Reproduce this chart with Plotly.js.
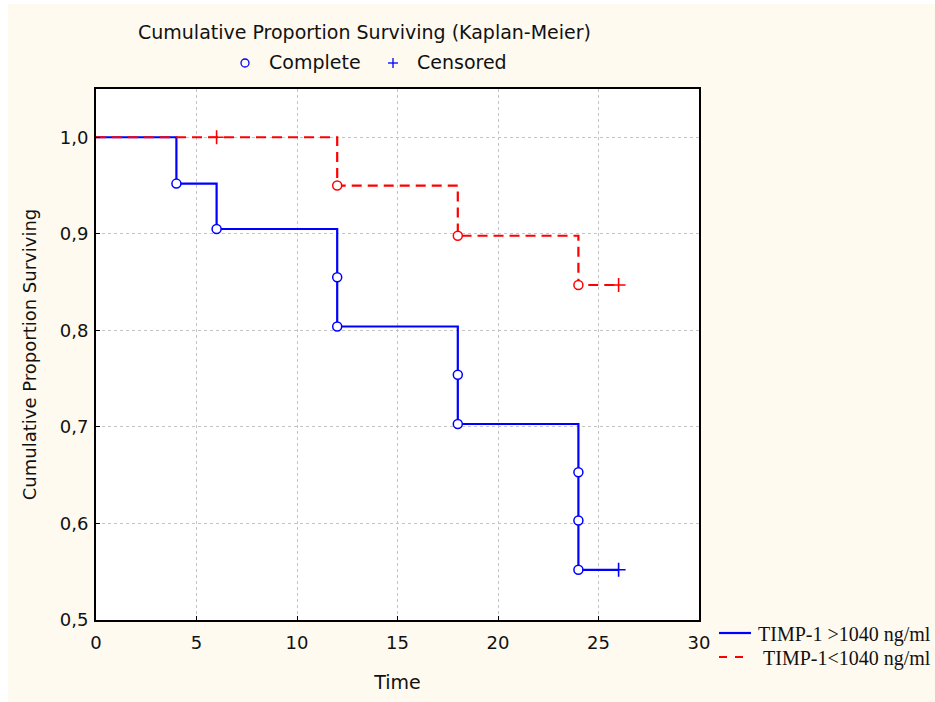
<!DOCTYPE html>
<html>
<head>
<meta charset="utf-8">
<script src="https://cdn.plot.ly/plotly-3.0.1.min.js"></script>
<style>html,body{margin:0;padding:0;background:#fffaf0;}</style>
</head>
<body>
<div id="chart" style="width:935px;height:702px;"></div>
<script>
// Group 1: TIMP-1 > 1040 ng/ml
var highEventTimes = [4, 6, 12, 12, 18, 18, 24, 24, 24];
var highEventSurv  = [0.952, 0.905, 0.855, 0.804, 0.754, 0.703, 0.653, 0.603, 0.552];
var highCensTimes  = [26];
var highCensSurv   = [0.552];

// Group 2: TIMP-1 < 1040 ng/ml
var lowEventTimes = [12, 18, 24];
var lowEventSurv  = [0.950, 0.898, 0.847];
var lowCensTimes  = [6, 26];
var lowCensSurv   = [1.0, 0.847];

var seriesNames = ['TIMP-1 &gt;1040 ng/ml', 'TIMP-1&lt;1040 ng/ml'];
var xTicks = [0, 5, 10, 15, 20, 25, 30];
var yTicks = [0.5, 0.6, 0.7, 0.8, 0.9, 1.0];

var BLUE = '#0000ff', RED = '#ff0000';

function stepLine(evT, evS, cT, cS) {
  var lastT = cT[cT.length - 1], lastS = cS[cS.length - 1];
  return { x: [0].concat(evT, [lastT]), y: [1].concat(evS, [lastS]) };
}
var hl = stepLine(highEventTimes, highEventSurv, highCensTimes, highCensSurv);
var ll = stepLine(lowEventTimes, lowEventSurv, lowCensTimes, lowCensSurv);

var traces = [
  { x: hl.x, y: hl.y, mode: 'lines', line: { shape: 'hv', color: BLUE, width: 2.2 }, name: seriesNames[0], showlegend: false },
  { x: ll.x, y: ll.y, mode: 'lines', line: { shape: 'hv', color: RED, width: 2.2, dash: '10px,6px' }, name: seriesNames[1], showlegend: false },
  { x: highEventTimes, y: highEventSurv, mode: 'markers', showlegend: false,
    marker: { symbol: 'circle', size: 9, color: '#ffffff', line: { color: BLUE, width: 1.5 } } },
  { x: lowEventTimes, y: lowEventSurv, mode: 'markers', showlegend: false,
    marker: { symbol: 'circle', size: 9, color: '#ffffff', line: { color: RED, width: 1.5 } } },
  { x: highCensTimes, y: highCensSurv, mode: 'markers', showlegend: false,
    marker: { symbol: 'cross-thin-open', size: 10, color: BLUE, line: { color: BLUE, width: 1.6 } } },
  { x: lowCensTimes, y: lowCensSurv, mode: 'markers', showlegend: false,
    marker: { symbol: 'cross-thin-open', size: 10, color: RED, line: { color: RED, width: 1.6 } } }
];

// pixel helpers for decoration placement (plot area 96..699 x 89..620)
var L = 96, R = 236, T = 89, B = 82, W = 935 - L - R, H = 702 - T - B;
function px(x) { return (x - L) / W; }
function py(y) { return (702 - B - y) / H; }

var FONT = 'DejaVu Sans, sans-serif';
var SERIF = 'Liberation Serif, Times New Roman, serif';

function note(text, x, y, anchor, font) {
  return { text: text, xref: 'paper', yref: 'paper', x: px(x), y: py(y), xanchor: anchor, yanchor: 'middle',
           showarrow: false, font: font };
}

var layout = {
  width: 935, height: 702,
  margin: { l: L, r: R, t: T, b: B, autoexpand: false },
  paper_bgcolor: '#fffaf0',
  plot_bgcolor: '#ffffff',
  separators: ', ',
  font: { family: FONT, size: 18, color: '#111111' },
  showlegend: false,
  xaxis: {
    range: [0, 30], tickvals: xTicks, ticks: 'inside', ticklen: 4, tickcolor: '#000',
    showline: true, linecolor: '#000', linewidth: 2, mirror: true,
    showgrid: true, gridcolor: '#c4c4c4', griddash: 'dot', gridwidth: 1,
    zeroline: false, tickfont: { family: FONT, size: 18 }, ticklabelstandoff: 5,
    title: { text: 'Time', font: { family: FONT, size: 19 }, standoff: 24 }
  },
  yaxis: {
    range: [0.5, 1.05], tickvals: yTicks, tickformat: '.1f', ticks: 'inside', ticklen: 4, tickcolor: '#000',
    showline: true, linecolor: '#000', linewidth: 2, mirror: true,
    showgrid: true, gridcolor: '#c4c4c4', griddash: 'dot', gridwidth: 1,
    zeroline: false, tickfont: { family: FONT, size: 18 }, ticklabelstandoff: 2,
    title: { text: 'Cumulative Proportion Surviving', font: { family: FONT, size: 18 }, standoff: 18 }
  },
  annotations: [
    note('Cumulative Proportion Surviving (Kaplan-Meier)', 364, 32, 'center', { family: FONT, size: 19, color: '#111' }),
    note('Complete', 267, 62, 'left', { family: FONT, size: 19, color: '#111' }),
    note('Censored', 415, 62, 'left', { family: FONT, size: 19, color: '#111' }),
    note(seriesNames[0], 756, 634, 'left', { family: SERIF, size: 20, color: '#111' }),
    note(seriesNames[1], 761, 658, 'left', { family: SERIF, size: 20, color: '#111' })
  ],
  shapes: [
    // header marker key
    { type: 'circle', xref: 'paper', yref: 'paper', xsizemode: 'pixel', ysizemode: 'pixel',
      xanchor: px(245), yanchor: py(63), x0: -4, x1: 4, y0: -4, y1: 4,
      line: { color: BLUE, width: 1.3 }, fillcolor: 'rgba(0,0,0,0)' },
    { type: 'line', xref: 'paper', yref: 'paper', xsizemode: 'pixel', ysizemode: 'pixel',
      xanchor: px(393), yanchor: py(63), x0: -5, x1: 5, y0: 0, y1: 0, line: { color: BLUE, width: 1.3 } },
    { type: 'line', xref: 'paper', yref: 'paper', xsizemode: 'pixel', ysizemode: 'pixel',
      xanchor: px(393), yanchor: py(63), x0: 0, x1: 0, y0: -5, y1: 5, line: { color: BLUE, width: 1.3 } },
    // series legend keys
    { type: 'line', xref: 'paper', yref: 'paper', x0: px(719), x1: px(751), y0: py(633), y1: py(633),
      line: { color: BLUE, width: 2.2 } },
    { type: 'line', xref: 'paper', yref: 'paper', x0: px(719), x1: px(743), y0: py(657), y1: py(657),
      line: { color: RED, width: 2.2, dash: '8px,8px' } },
    // thin white page border
    { type: 'rect', xref: 'paper', yref: 'paper', x0: px(0), x1: px(8), y0: py(702), y1: py(0),
      line: { width: 0 }, fillcolor: '#ffffff', layer: 'below' },
    { type: 'rect', xref: 'paper', yref: 'paper', x0: px(0), x1: px(935), y0: py(4), y1: py(0),
      line: { width: 0 }, fillcolor: '#ffffff', layer: 'below' }
  ]
};

Plotly.newPlot('chart', traces, layout, { displayModeBar: false, staticPlot: true });
</script>
</body>
</html>
